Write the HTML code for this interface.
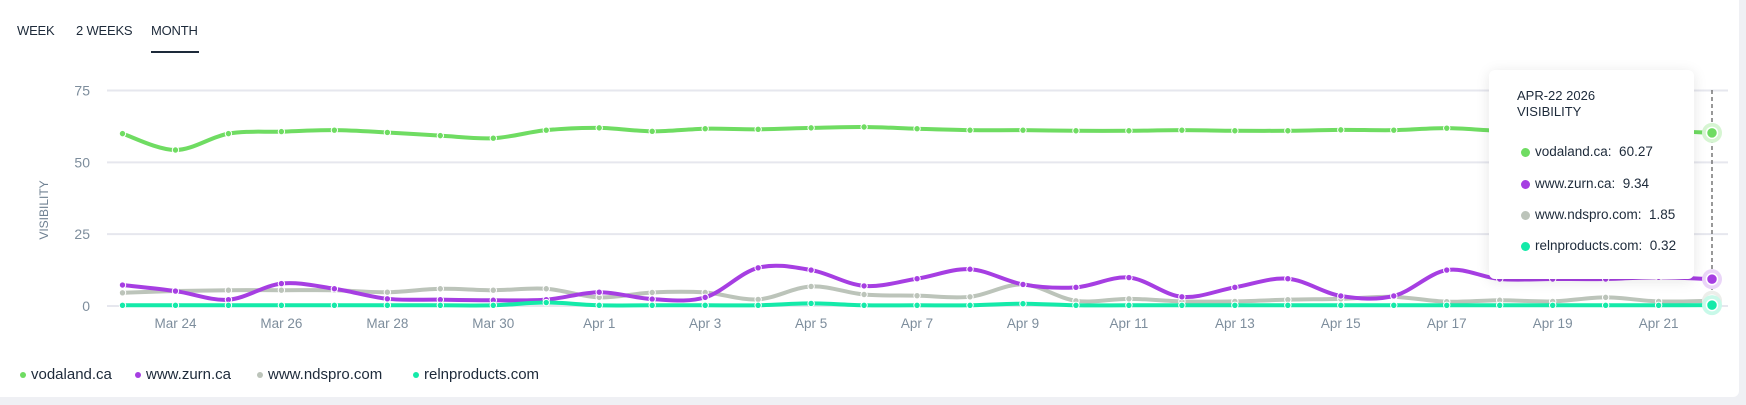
<!DOCTYPE html>
<html><head><meta charset="utf-8"><style>
html,body{margin:0;padding:0;width:1746px;height:405px;overflow:hidden;background:#eff0f4;font-family:"Liberation Sans",sans-serif;}
#card{position:absolute;left:0;top:0;width:1739px;height:397px;background:#fff;border-radius:0 0 6px 0;}
.tab{position:absolute;top:23px;font-size:13px;color:#1d2a3a;letter-spacing:-0.2px}
#tt{position:absolute;left:1489px;top:70px;width:205px;height:209px;background:#fff;border-radius:6px;box-shadow:0 2px 14px rgba(0,0,0,0.10);font-size:13.5px;color:#1d2a3a}
#tt .r{position:absolute;left:32px;height:16px;line-height:16px}
#tt .d{position:absolute;left:-14px;top:4px;width:9px;height:9px;border-radius:50%}
.lg{position:absolute;top:366px;font-size:15px;line-height:18px;color:#1d2a3a;white-space:nowrap}
.lg i{position:absolute;left:-11px;top:6px;width:6px;height:6px;border-radius:50%}
</style></head><body>
<div id="card">
<div class="tab" style="left:17px">WEEK</div>
<div class="tab" style="left:76px">2 WEEKS</div>
<div class="tab" style="left:151px">MONTH</div>
<div style="position:absolute;left:151px;top:51px;width:48px;height:2px;background:#1d2a3a"></div>
<svg id="s" width="1746" height="405" style="position:absolute;left:0;top:0"></svg>
<div id="tt">
<div style="position:absolute;left:28px;top:18px;line-height:16px;font-size:13px">APR-22 2026<br>VISIBILITY</div>
<div class="r" style="top:74px;left:46px"><span class="d" style="background:#6fdc62"></span>vodaland.ca:&nbsp; 60.27</div>
<div class="r" style="top:106px;left:46px"><span class="d" style="background:#a63ee2"></span>www.zurn.ca:&nbsp; 9.34</div>
<div class="r" style="top:137px;left:46px"><span class="d" style="background:#bcc4ba"></span>www.ndspro.com:&nbsp; 1.85</div>
<div class="r" style="top:168px;left:46px"><span class="d" style="background:#14eaa9"></span>relnproducts.com:&nbsp; 0.32</div>
</div>
<div class="lg" style="left:31px"><i style="background:#6fdc62"></i>vodaland.ca</div>
<div class="lg" style="left:146px"><i style="background:#a63ee2"></i>www.zurn.ca</div>
<div class="lg" style="left:268px"><i style="background:#bcc4ba"></i>www.ndspro.com</div>
<div class="lg" style="left:424px"><i style="background:#14eaa9"></i>relnproducts.com</div>
</div>
<script>
var s=document.getElementById('s'),h='';
function X(i){return 122.5+52.97*i}
function Y(v){return 306-v*2.873}
[0,25,50,75].forEach(function(v){h+='<line x1="107" x2="1728" y1="'+Y(v)+'" y2="'+Y(v)+'" stroke="#e6e7ee" stroke-width="2"/>';
h+='<text x="90" y="'+(Y(v)+5)+'" text-anchor="end" font-size="14" fill="#7d8d9c">'+v+'</text>';});
var labs=['Mar 24','Mar 26','Mar 28','Mar 30','Apr 1','Apr 3','Apr 5','Apr 7','Apr 9','Apr 11','Apr 13','Apr 15','Apr 17','Apr 19','Apr 21'];
labs.forEach(function(l,k){h+='<text x="'+X(1+2*k)+'" y="328" text-anchor="middle" font-size="13.5" fill="#7d8d9c">'+l+'</text>';});
h+='<text transform="translate(48,210) rotate(-90)" text-anchor="middle" font-size="12" fill="#6f8192">VISIBILITY</text>';
var G=[60,54.3,60,60.7,61.2,60.4,59.3,58.4,61.2,62,60.8,61.7,61.5,62,62.3,61.7,61.2,61.2,61,61,61.2,61,61,61.3,61.2,61.9,61,61,61,61,60.27];
var P=[7.3,5.2,2.2,7.8,6,2.5,2.2,2,2.2,4.8,2.4,3,13.3,12.5,7,9.5,12.8,7.5,6.5,9.9,3.2,6.5,9.5,3.5,3.5,12.5,9.4,9.4,9.4,10,9.34];
var R=[4.6,5.2,5.5,5.5,5.5,4.8,6,5.5,6,3,4.7,4.7,2.3,6.8,4,3.6,3.2,7.5,1.8,2.5,1.6,1.6,2.2,2.5,3.2,1.5,2,1.6,3,1.6,1.85];
var T=[];for(var i=0;i<31;i++)T.push(0.25);T[8]=1.2;T[13]=0.9;T[17]=0.8;T[30]=0.32;
function path(d){var p=d.map(function(v,i){return[X(i),Y(v)]});var str='M'+p[0][0]+','+p[0][1];
for(var i=0;i<p.length-1;i++){var p0=p[Math.max(i-1,0)],p1=p[i],p2=p[i+1],p3=p[Math.min(i+2,p.length-1)];
var c1x=p1[0]+(p2[0]-p0[0])/6,c1y=p1[1]+(p2[1]-p0[1])/6,c2x=p2[0]-(p3[0]-p1[0])/6,c2y=p2[1]-(p3[1]-p1[1])/6;
str+=' C'+c1x+','+c1y+' '+c2x+','+c2y+' '+p2[0]+','+p2[1];}return str;}
function ser(d,c,lc){h+='<path d="'+path(d)+'" fill="none" stroke="'+c+'" stroke-width="4" stroke-linecap="round"/>';
d.forEach(function(v,i){if(i<30)h+='<circle cx="'+X(i)+'" cy="'+Y(v)+'" r="3.2" fill="'+c+'" stroke="#fff" stroke-width="1"/>';});}
ser(R,'#bcc4ba');ser(P,'#a63ee2');ser(G,'#6fdc62');ser(T,'#14eaa9');
h+='<line x1="1712" x2="1712" y1="90" y2="306" stroke="#555" stroke-width="1.2" stroke-dasharray="4,3"/>';
[[G,'#6fdc62','#d6f5d2'],[P,'#a63ee2','#ead5f8'],[R,'#bcc4ba','#eceeea'],[T,'#14eaa9','#c8f9e9']].forEach(function(a){var y=Y(a[0][30]);
h+='<circle cx="1712" cy="'+y+'" r="10" fill="'+a[2]+'"/><circle cx="1712" cy="'+y+'" r="5.5" fill="'+a[1]+'" stroke="#fff" stroke-width="1.5"/>';});
s.innerHTML=h;
</script>
</body></html>
